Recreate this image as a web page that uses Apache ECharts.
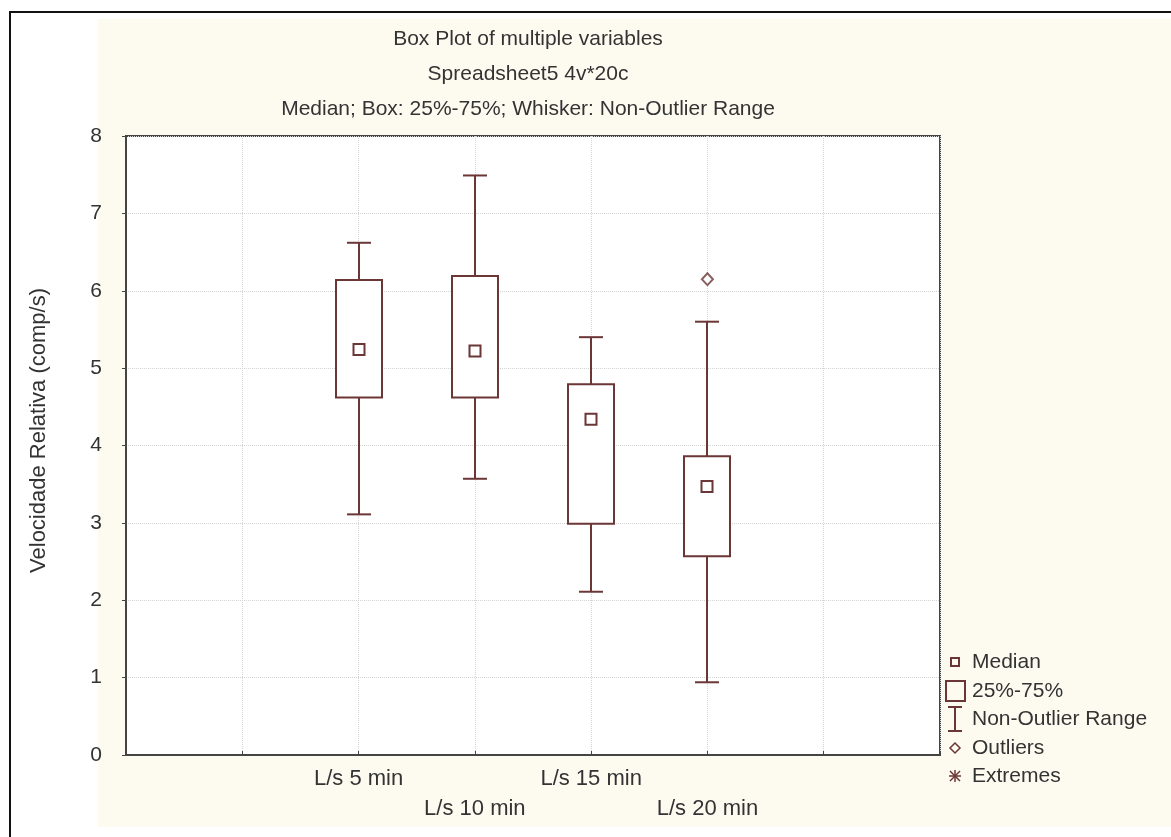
<!DOCTYPE html>
<html>
<head>
<meta charset="utf-8">
<script src="https://cdn.jsdelivr.net/npm/echarts@6/dist/echarts.min.js"></script>
<style>
  html, body { margin: 0; padding: 0; background: #fff; }
  #frame { position: absolute; left: 9px; top: 11px; width: 1162px; height: 826px;
           border-left: 2px solid #111; border-top: 2px solid #111; box-sizing: border-box; }
  #panel { position: absolute; left: 98px; top: 19px; width: 1073px; height: 808px; background: #fdfaf0; }
  #chart { position: absolute; left: 0; top: 0; width: 1171px; height: 837px; }
</style>
</head>
<body>
<div id="frame"></div>
<div id="panel"></div>
<div id="chart"></div>
<script>
// slots on the x axis (blank ones keep the empty space either side)
const categories = ['', '', 'L/s 5 min', 'L/s 10 min', 'L/s 15 min', 'L/s 20 min', '', ''];
const boxNames = ['L/s 5 min', 'L/s 10 min', 'L/s 15 min', 'L/s 20 min'];
const whiskerLow = [3.11, 3.57, 2.11, 0.94];
const quart25 = [4.62, 4.62, 2.99, 2.57];
const medians = [5.24, 5.22, 4.34, 3.47];
const quart75 = [6.14, 6.19, 4.79, 3.86];
const whiskerHigh = [6.62, 7.49, 5.40, 5.60];
const outlierCats = ['L/s 20 min'];
const outlierValues = [6.15];
const yTicks = [0, 1, 2, 3, 4, 5, 6, 7, 8];

const boxColor = '#6b3636';
const textColor = '#333';
const font = 'Liberation Sans, Arial, sans-serif';

const boxData = boxNames.map((name, i) => [
  categories.indexOf(name), whiskerLow[i], quart25[i], medians[i], quart75[i], whiskerHigh[i]
]);
const outlierData = outlierCats.map((name, i) => [categories.indexOf(name), outlierValues[i]]);

// one box: whiskers + caps, quartile box, hollow square at the median
const renderBox = (params, api) => {
  const idx = api.value(0);
  const lo = api.coord([idx, api.value(1)]);
  const q1 = api.coord([idx, api.value(2)]);
  const med = api.coord([idx, api.value(3)]);
  const q3 = api.coord([idx, api.value(4)]);
  const hi = api.coord([idx, api.value(5)]);
  const cx = Math.round(lo[0]);
  const style = {stroke: boxColor, lineWidth: 2, fill: null};
  return {
    type: 'group',
    children: [
      {type: 'line', shape: {x1: cx, y1: hi[1], x2: cx, y2: q3[1]}, style},
      {type: 'line', shape: {x1: cx, y1: q1[1], x2: cx, y2: lo[1]}, style},
      {type: 'line', shape: {x1: cx - 12, y1: hi[1], x2: cx + 12, y2: hi[1]}, style},
      {type: 'line', shape: {x1: cx - 12, y1: lo[1], x2: cx + 12, y2: lo[1]}, style},
      {type: 'rect', shape: {x: cx - 23, y: q3[1], width: 46, height: q1[1] - q3[1]},
        style: {stroke: boxColor, lineWidth: 2, fill: '#fff'}},
      {type: 'rect', shape: {x: cx - 5.5, y: med[1] - 5.5, width: 11, height: 11},
        style: {stroke: boxColor, lineWidth: 2, fill: '#fff'}}
    ]
  };
};

// legend at the right, drawn by hand (icons are box-plot glyphs)
const legendX = 955;
const legendRows = [662, 691, 719, 748, 776];
const legendTexts = ['Median', '25%-75%', 'Non-Outlier Range', 'Outliers', 'Extremes'];
const iconStyle = {stroke: boxColor, lineWidth: 2, fill: 'transparent'};
const legendIcons = [
  {type: 'rect', shape: {x: legendX - 4, y: legendRows[0] - 4, width: 8, height: 8}, style: iconStyle},
  {type: 'rect', shape: {x: legendX - 9, y: legendRows[1] - 10, width: 19, height: 20}, style: iconStyle},
  {type: 'group', children: [
    {type: 'line', shape: {x1: legendX, y1: legendRows[2] - 12, x2: legendX, y2: legendRows[2] + 12}, style: iconStyle},
    {type: 'line', shape: {x1: legendX - 7, y1: legendRows[2] - 12, x2: legendX + 7, y2: legendRows[2] - 12}, style: iconStyle},
    {type: 'line', shape: {x1: legendX - 7, y1: legendRows[2] + 12, x2: legendX + 7, y2: legendRows[2] + 12}, style: iconStyle}
  ]},
  {type: 'polygon', shape: {points: [[legendX, legendRows[3] - 5], [legendX + 5, legendRows[3]],
    [legendX, legendRows[3] + 5], [legendX - 5, legendRows[3]]]}, style: {stroke: boxColor, lineWidth: 1.5, fill: 'transparent'}},
  {type: 'group', children: [
    {type: 'line', shape: {x1: legendX, y1: legendRows[4] - 6, x2: legendX, y2: legendRows[4] + 6}, style: {stroke: boxColor, lineWidth: 1.5}},
    {type: 'line', shape: {x1: legendX - 6, y1: legendRows[4], x2: legendX + 6, y2: legendRows[4]}, style: {stroke: boxColor, lineWidth: 1.5}},
    {type: 'line', shape: {x1: legendX - 5, y1: legendRows[4] - 5, x2: legendX + 5, y2: legendRows[4] + 5}, style: {stroke: boxColor, lineWidth: 1.5}},
    {type: 'line', shape: {x1: legendX - 5, y1: legendRows[4] + 5, x2: legendX + 5, y2: legendRows[4] - 5}, style: {stroke: boxColor, lineWidth: 1.5}}
  ]}
];
const legendLabels = legendTexts.map((t, i) => ({
  type: 'text',
  x: 972,
  y: legendRows[i],
  style: {text: t, font: `21px ${font}`, fill: textColor, verticalAlign: 'middle'}
}));

const chart = echarts.init(document.getElementById('chart'));

const option = {
  backgroundColor: 'transparent',
  animation: false,
  textStyle: {fontFamily: font},
  title: {
    text: 'Box Plot of multiple variables\nSpreadsheet5 4v*20c\nMedian; Box: 25%-75%; Whisker: Non-Outlier Range',
    left: 523,
    top: 17,
    textAlign: 'center',
    textStyle: {fontSize: 21, fontWeight: 'normal', color: textColor, lineHeight: 35, fontFamily: font}
  },
  grid: {
    left: 126, top: 136, right: 231, bottom: 82,
    show: true, backgroundColor: '#fff', borderColor: '#444', borderWidth: 2
  },
  xAxis: {
    type: 'category',
    data: categories,
    boundaryGap: false,
    axisLine: {show: true, lineStyle: {color: '#444', width: 2}},
    axisTick: {show: true, inside: true, length: 4, interval: 0, lineStyle: {color: '#444'}},
    axisLabel: {
      interval: 0,
      margin: 9,
      fontSize: 22,
      lineHeight: 30,
      color: textColor,
      formatter: (val, idx) => (idx % 2 === 1 && val ? '\n' + val : val)
    },
    splitLine: {show: true, interval: 0, lineStyle: {color: '#d4d4d4', type: 'dotted', width: 1}}
  },
  yAxis: {
    type: 'value',
    min: yTicks[0],
    max: yTicks[yTicks.length - 1],
    interval: 1,
    name: 'Velocidade Relativa (comp/s)',
    nameLocation: 'middle',
    nameGap: 76,
    nameTextStyle: {fontSize: 22, color: textColor, fontFamily: font, padding: [0, 0, 0, 30]},
    axisLine: {show: true, lineStyle: {color: '#444', width: 2}},
    axisTick: {show: true, length: 4, lineStyle: {color: '#444'}},
    axisLabel: {fontSize: 21, color: textColor, margin: 24},
    splitLine: {show: true, lineStyle: {color: '#d4d4d4', type: 'dotted', width: 1}}
  },
  series: [
    {
      name: 'Boxes',
      type: 'custom',
      renderItem: renderBox,
      encode: {x: 0, y: [1, 2, 3, 4, 5]},
      data: boxData,
      z: 3
    },
    {
      name: 'Outliers',
      type: 'scatter',
      data: outlierData,
      symbol: 'diamond',
      symbolSize: [11, 12],
      itemStyle: {color: '#fff', borderColor: boxColor, borderWidth: 2},
      z: 4
    }
  ],
  graphic: legendIcons.concat(legendLabels)
};

chart.setOption(option);
</script>
</body>
</html>
